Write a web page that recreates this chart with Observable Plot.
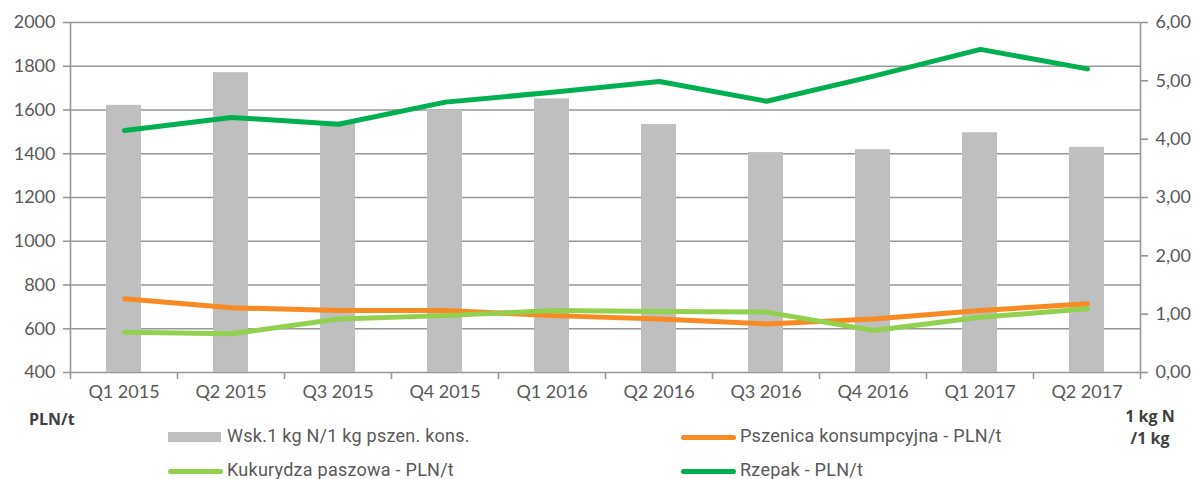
<!DOCTYPE html>
<html>
<head>
<meta charset="utf-8">
<script src="https://cdn.jsdelivr.net/npm/d3@7"></script>
<script src="https://cdn.jsdelivr.net/npm/@observablehq/plot@0.6"></script>
<style>
  body { margin: 0; background: #fff; }
  #wrap { position: relative; width: 1196px; height: 479px; overflow: hidden; background: #fff; }
  #wrap svg { position: absolute; left: 0; top: 0; background: transparent; }
  .lbl { position: absolute; font-family: "Open Sans", sans-serif; font-weight: bold; font-size: 16px; color: #404040; line-height: 22px; }
  .leg { position: absolute; font-family: Roboto, sans-serif; font-size: 18px; letter-spacing: 0.25px; color: #595959; white-space: nowrap; }
  .sw { position: absolute; }
</style>
</head>
<body>
<div id="wrap"></div>
<script>
const quarters = ["Q1 2015","Q2 2015","Q3 2015","Q4 2015","Q1 2016","Q2 2016","Q3 2016","Q4 2016","Q1 2017","Q2 2017"];
const wsk       = [4.58, 5.14, 4.29, 4.50, 4.69, 4.25, 3.77, 3.82, 4.11, 3.86];
const pszenica  = [737, 696, 683, 683, 660, 645, 622, 645, 683, 714];
const kukurydza = [584, 577, 645, 660, 683, 679, 676, 592, 653, 691];
const rzepak    = [1506, 1566, 1535, 1636, 1681, 1730, 1640, 1755, 1877, 1788];
const leftTicks = [400, 600, 800, 1000, 1200, 1400, 1600, 1800, 2000];
const rightTicks = [0, 1, 2, 3, 4, 5, 6];
const seriesNames = ["Wsk.1 kg N/1 kg pszen. kons.", "Pszenica konsumpcyjna - PLN/t", "Kukurydza paszowa - PLN/t", "Rzepak - PLN/t"];
const colors = {bar: "#bfbfbf", psz: "#f78a22", kuk: "#92d050", rze: "#00b050"};

const W = 1196, H = 410;
const M = {marginLeft: 70, marginRight: 56, marginTop: 22, marginBottom: 38};
const tickFont = {fontFamily: "Lato, sans-serif", fontSize: 18, fill: "#595959"};
const grid = "#979797";

const wrap = document.getElementById("wrap");

// Layer 1: gridlines and axes (left scale, linear x for boundary ticks)
const idx = quarters.map((q, i) => i);
const axesLayer = Plot.plot({
  width: W, height: H, ...M,
  style: {background: "transparent", fontFamily: "Lato, sans-serif"},
  x: {type: "linear", domain: [0, quarters.length]},
  y: {domain: [400, 2000]},
  marks: [
    Plot.ruleY(leftTicks, {stroke: grid, strokeWidth: 1.6}),
    Plot.ruleX([0, quarters.length], {y1: 400, y2: 2000, stroke: grid, strokeWidth: 1.6}),
    Plot.axisY({ticks: leftTicks, tickSize: 7, tickPadding: 8, stroke: grid, strokeWidth: 1.6, ...tickFont, label: null, tickFormat: d => String(d)}),
    Plot.axisX({ticks: d3.range(quarters.length + 1), tickSize: 7, stroke: grid, strokeWidth: 1.6, tickFormat: () => "", label: null}),
    Plot.axisX({ticks: idx.map(i => i + 0.5), tickSize: 0, tickPadding: 13, ...tickFont, tickFormat: d => quarters[Math.floor(d)], label: null})
  ]
});
wrap.appendChild(axesLayer);

// Layer 2: bars on right scale
const barData = quarters.map((q, i) => ({q, v: wsk[i]}));
const barLayer = Plot.plot({
  width: W, height: H, ...M,
  style: {background: "transparent"},
  x: {type: "band", domain: quarters, paddingInner: 0.67, paddingOuter: 0.335, axis: null},
  y: {domain: [0, 6]},
  marks: [
    Plot.barY(barData, {x: "q", y: "v", fill: colors.bar}),
    Plot.axisY({anchor: "right", ticks: rightTicks, tickSize: 7, tickPadding: 8, stroke: grid, strokeWidth: 1.6, ...tickFont, label: null, tickFormat: d => d.toFixed(2).replace(".", ",")})
  ]
});
wrap.appendChild(barLayer);

// Layer 3: lines on left scale
const lineData = [];
quarters.forEach((q, i) => {
  lineData.push({q, s: "psz", v: pszenica[i]});
  lineData.push({q, s: "kuk", v: kukurydza[i]});
  lineData.push({q, s: "rze", v: rzepak[i]});
});
const lineLayer = Plot.plot({
  width: W, height: H, ...M,
  style: {background: "transparent"},
  x: {type: "point", domain: quarters, padding: 0.5, axis: null},
  y: {domain: [400, 2000], axis: null},
  color: {domain: ["psz", "kuk", "rze"], range: [colors.psz, colors.kuk, colors.rze]},
  marks: [
    Plot.lineY(lineData, {x: "q", y: "v", z: "s", stroke: "s", strokeWidth: 5, strokeLinejoin: "round", strokeLinecap: "round"})
  ]
});
wrap.appendChild(lineLayer);

// Axis unit labels
function addDiv(cls, html, style) {
  const d = document.createElement("div");
  d.className = cls; d.innerHTML = html;
  Object.assign(d.style, style);
  wrap.appendChild(d);
  return d;
}
addDiv("lbl", "PLN/t", {left: "29px", top: "408px"});
addDiv("lbl", "1 kg N<br>/1 kg", {left: "1098px", width: "104px", top: "405px", textAlign: "center"});

// Legend
const legItems = [
  {name: seriesNames[0], type: "rect", color: colors.bar, sx: 168, tx: 227, y: 437},
  {name: seriesNames[1], type: "line", color: colors.psz, sx: 681, tx: 740, y: 437},
  {name: seriesNames[2], type: "line", color: colors.kuk, sx: 168, tx: 227, y: 471},
  {name: seriesNames[3], type: "line", color: colors.rze, sx: 681, tx: 740, y: 471}
];
legItems.forEach(it => {
  if (it.type === "rect") {
    addDiv("sw", "", {left: it.sx + "px", top: (it.y - 5) + "px", width: "53px", height: "10px", background: it.color});
  } else {
    addDiv("sw", "", {left: it.sx + "px", top: (it.y - 2.5) + "px", width: "55px", height: "5px", background: it.color, borderRadius: "3px"});
  }
  addDiv("leg", it.name, {left: it.tx + "px", top: (it.y - 12) + "px", lineHeight: "22px"});
});
</script>
</body>
</html>
